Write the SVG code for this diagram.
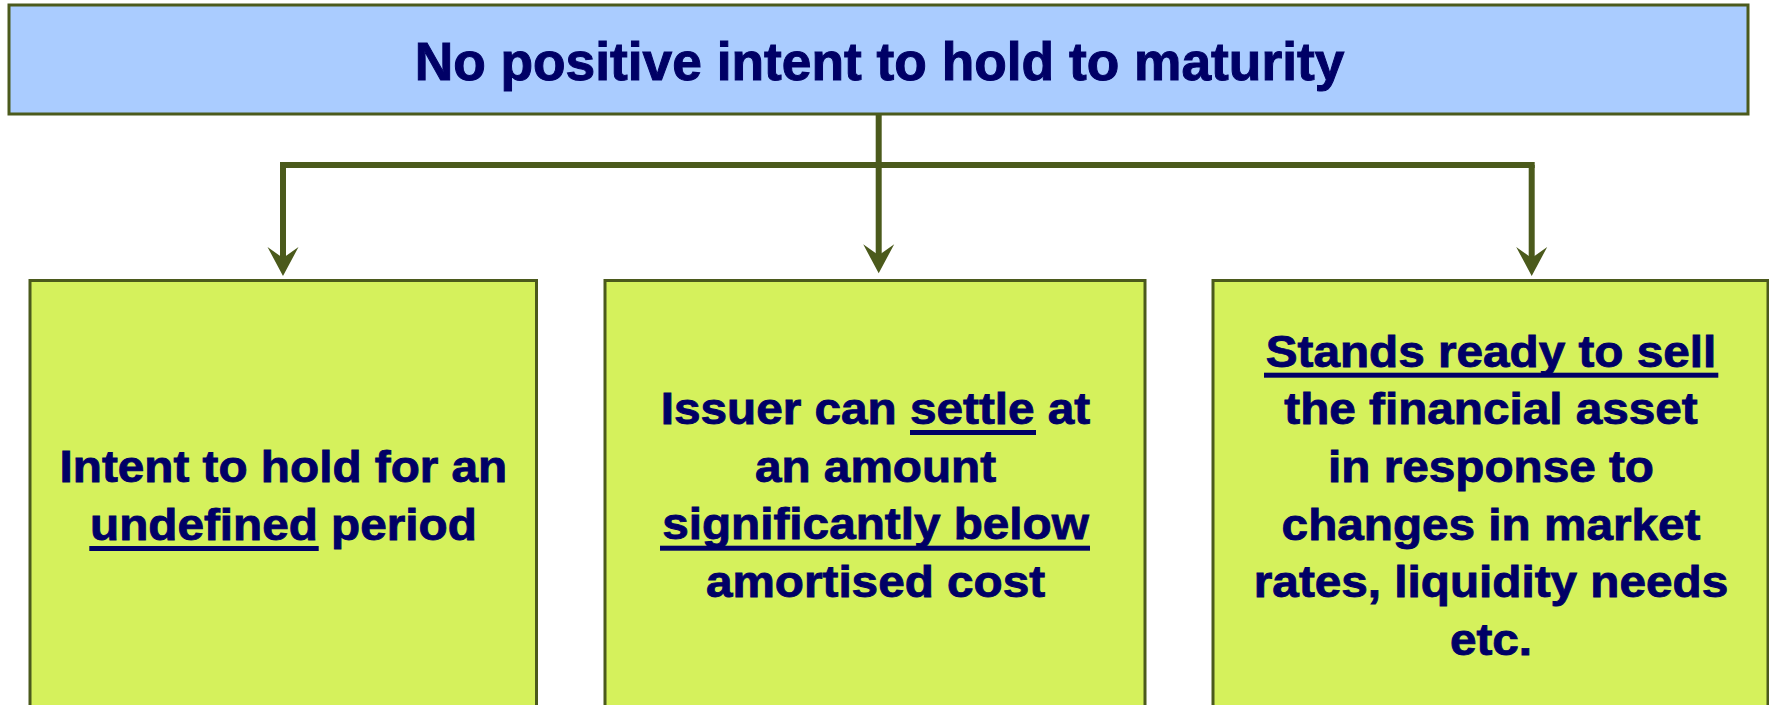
<svg xmlns="http://www.w3.org/2000/svg" width="1769" height="705" viewBox="0 0 1769 705">
  <defs>
    <style>
      .box-top { fill: #aaccff; stroke: #4b5a1c; stroke-width: 3; }
      .box { fill: #d5f15c; stroke: #4b5a1c; stroke-width: 3; }
      .title { font-family: "Liberation Sans", Arial, sans-serif; font-weight: bold; font-size: 53.3px; fill: #000066; stroke: #000066; stroke-width: 1; text-anchor: middle; }
      .body { font-family: "Liberation Sans", Arial, sans-serif; font-weight: bold; font-size: 45px; fill: #000066; stroke: #000066; stroke-width: 0.9; text-anchor: middle; }
      .ul { fill: #000066; }
      .wire { fill: none; stroke: #4b5a1c; stroke-width: 6; }
    </style>
    <marker id="arrow" markerUnits="userSpaceOnUse" viewBox="-32 -17 34 34" markerWidth="34" markerHeight="34" refX="-15" refY="0" orient="auto">
      <path d="M0,0 L-29,-15.5 L-18,0 L-29,15.5 Z" fill="#4b5a1c"/>
    </marker>
  </defs>

  <rect width="1769" height="705" fill="#ffffff"/>

  <!-- connectors -->
  <g id="connectors">
    <path class="wire" d="M283,165 H1531.7" stroke-linecap="square"/>
    <path class="wire" d="M878.7,114 V258.3" marker-end="url(#arrow)"/>
    <path class="wire" d="M283,165 V261" marker-end="url(#arrow)"/>
    <path class="wire" d="M1531.7,165 V261" marker-end="url(#arrow)"/>
  </g>

  <!-- root -->
  <g id="n-root">
    <rect class="box-top" x="9" y="5" width="1739" height="109"/>
    <text class="title" x="879.5" y="80">No positive intent to hold to maturity</text>
  </g>

  <!-- left -->
  <g id="n-undefined">
    <rect class="box" x="30" y="280.5" width="506.5" height="440"/>
    <g transform="translate(283.4 0) scale(1.06 1)">
      <text class="body" x="0" y="482">Intent to hold for an</text>
      <text class="body" x="0" y="540">undefined period</text>
    </g>
    <rect class="ul" x="89.3" y="546" width="229.4" height="5"/>
  </g>

  <!-- middle -->
  <g id="n-settle">
    <rect class="box" x="605" y="280.5" width="540" height="440"/>
    <g transform="translate(875.5 0) scale(1.06 1)">
      <text class="body" x="0" y="424.3">Issuer can settle at</text>
      <text class="body" x="0" y="481.7">an amount</text>
      <text class="body" x="0" y="539.3">significantly below</text>
      <text class="body" x="0" y="596.7">amortised cost</text>
    </g>
    <rect class="ul" x="910" y="430" width="126" height="5"/>
    <rect class="ul" x="660" y="545.7" width="430" height="5"/>
  </g>

  <!-- right -->
  <g id="n-sell">
    <rect class="box" x="1213" y="280.5" width="555" height="440"/>
    <g transform="translate(1491 0) scale(1.06 1)">
      <text class="body" x="0" y="366.7">Stands ready to sell</text>
      <text class="body" x="0" y="424.3">the financial asset</text>
      <text class="body" x="0" y="482.3">in response to</text>
      <text class="body" x="0" y="540">changes in market</text>
      <text class="body" x="0" y="597.3">rates, liquidity needs</text>
      <text class="body" x="0" y="655">etc.</text>
    </g>
    <rect class="ul" x="1264" y="372.7" width="454.3" height="5"/>
  </g>
</svg>
